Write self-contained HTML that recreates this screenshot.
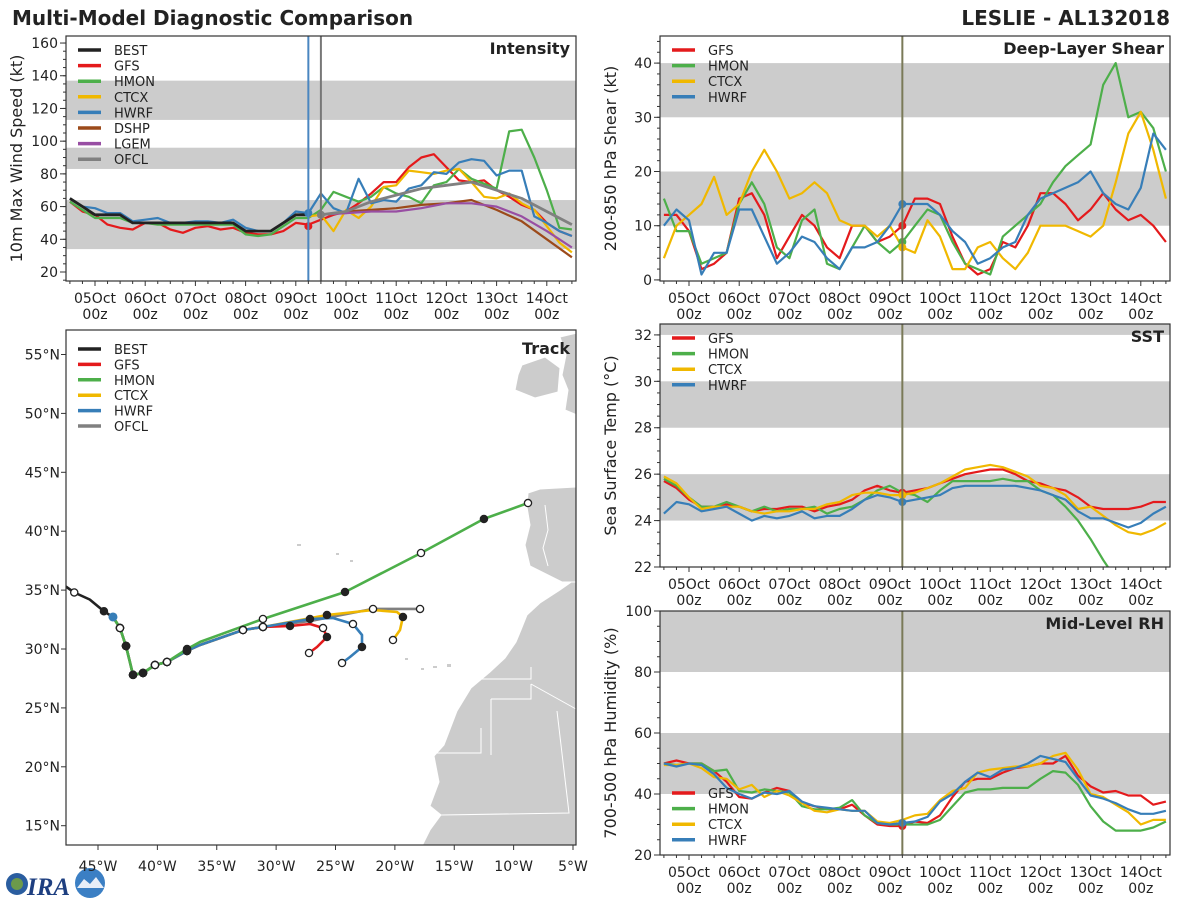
<!DOCTYPE html>
<html><head><meta charset="utf-8"><style>
html,body{margin:0;padding:0;background:#fff;}
svg{display:block;font-family:"DejaVu Sans","Liberation Sans",sans-serif;}
</style></head><body>
<svg id="chart" width="1200" height="900" viewBox="0 0 1200 900" xmlns="http://www.w3.org/2000/svg">
<text x="12" y="25" font-size="20" font-weight="bold" fill="#222">Multi-Model Diagnostic Comparison</text>
<text x="1170" y="25" font-size="20" font-weight="bold" fill="#222" text-anchor="end">LESLIE - AL132018</text>
<g>
<circle cx="17" cy="884" r="11" fill="#2a5d9f"/><circle cx="17" cy="884" r="6" fill="#6c9a4a"/>
<text x="27" y="895" font-size="25" font-weight="bold" font-style="italic" fill="#1e3f80" font-family="Liberation Serif,serif">IRA</text>
<circle cx="90" cy="883" r="15" fill="#3b7fc4"/><path d="M77 888 L84 879 L90 884 L96 877 L104 888 Z" fill="#e8eef8"/>
</g>
</svg>
<script>
// ---------- DATA ----------
const dayLabels = ["05Oct","06Oct","07Oct","08Oct","09Oct","10Oct","11Oct","12Oct","13Oct","14Oct"];
const legendIntensity = ["BEST","GFS","HMON","CTCX","HWRF","DSHP","LGEM","OFCL"];
const legendModels = ["GFS","HMON","CTCX","HWRF"];
// intensity (kt), 6-hourly from 04Oct 12z
const intBEST = [65,60,55,55,55,50,50,50,50,50, 50,50,50,50,45,45,45,50,55,55];
const intGFS  = [63,57,55,49,47,46,50,50,46,44, 47,48,46,47,44,43,43,45,50,49, 52,55,57,62,68,75,75,84,90,92, 84,76,75,76,70,66,61,58,50,45, 42];
const intHMON = [63,58,53,53,53,50,50,49,49,49, 49,49,49,49,43,42,43,48,53,53, 58,69,66,63,66,72,68,66,62,73, 75,83,77,74,71,106,107,90,70,47, 46];
const intCTCX = [null,null,null,null,null,null,null,null,null,null, null,null,null,null,null,null,null,null,null,54, 55,45,58,53,60,72,73,82,81,80, 82,83,75,66,65,68,62,58,48,38, 32];
const intHWRF = [65,60,59,56,56,51,52,53,50,50, 51,51,50,52,47,45,45,50,57,56, 68,59,56,77,62,64,63,71,73,81, 80,87,89,88,79,82,82,54,50,45, 42];
// 12-hourly from 09Oct 12z
const intDSHP = [55,57,58,59,61,62,64,58,51,40,29];
const intLGEM = [55,56,57,57,59,62,62,60,54,45,35];
const intOFCL = [55,57,63,67,71,73,75,70,65,57,49];
// shear (kt)
const shrGFS  = [12,12,9,2,3,5,15,16,12,4, 8,12,10,6,4,10,10,7,8,10, 15,15,14,8,3,1,2,7,6,10, 16,16,14,11,13,16,13,11,12,10, 7];
const shrHMON = [15,9,9,3,4,5,14,18,14,6, 4,11,13,3,2,6,10,7,5,7, 10,13,12,7,3,2,1,8,10,12, 14,18,21,23,25,36,40,30,31,28, 20];
const shrCTCX = [4,10,12,14,19,12,14,20,24,20, 15,16,18,16,11,10,10,8,10,6, 5,11,8,2,2,6,7,4,2,5, 10,10,10,9,8,10,18,27,31,24, 15];
const shrHWRF = [10,13,11,1,5,5,13,13,8,3, 5,8,7,4,2,6,6,7,10,14, 14,14,12,9,7,3,4,6,7,12, 15,16,17,18,20,16,14,13,17,27, 24];
// SST (C)
const sstGFS  = [25.7,25.4,24.9,24.6,24.6,24.7,24.6,24.4,24.5,24.5, 24.6,24.6,24.4,24.6,24.7,24.9,25.3,25.5,25.3,25.2, 25.3,25.4,25.6,25.8,26.0,26.1,26.2,26.2,26.0,25.7, 25.6,25.4,25.3,25.0,24.6,24.5,24.5,24.5,24.6,24.8, 24.8];
const sstHMON = [25.8,25.5,25.0,24.6,24.6,24.8,24.6,24.4,24.6,24.4, 24.5,24.5,24.6,24.3,24.5,24.6,24.9,25.3,25.5,25.2, 25.1,24.8,25.3,25.7,25.7,25.7,25.7,25.8,25.7,25.7, 25.3,25.1,24.6,24.0,23.2,22.3,21.5,null,null,null, null];
const sstCTCX = [25.9,25.6,25.0,24.5,24.6,24.6,24.6,24.4,24.3,24.4, 24.4,24.5,24.5,24.7,24.8,25.1,25.2,25.2,25.1,25.1, 25.2,25.4,25.6,25.9,26.2,26.3,26.4,26.3,26.1,25.9, 25.5,25.4,25.1,24.5,24.6,24.2,23.8,23.5,23.4,23.6, 23.9];
const sstHWRF = [24.3,24.8,24.7,24.4,24.5,24.6,24.3,24.0,24.2,24.1, 24.2,24.4,24.1,24.2,24.2,24.5,24.9,25.1,25.0,24.8, 24.9,25.0,25.1,25.4,25.5,25.5,25.5,25.5,25.5,25.4, 25.3,25.1,24.9,24.4,24.1,24.1,23.9,23.7,23.9,24.3, 24.6];
// RH (%)
const rhGFS  = [50,51,50,50,47.5,44,39,38.5,40.5,42, 41,37,36,35,35,36.5,33,30,29.5,29.5, 31,30.5,33,39,44,45,45,47,48.5,49, 50,50,52.5,46,42.5,40.5,41,39.5,39.5,36.5, 37.5];
const rhHMON = [50,49.5,50,50,47.5,48,41,40.5,41.5,41, 40.5,36,35,35,35.5,38,33,30.5,30,30, 30,30,31.5,36,40.5,41.5,41.5,42,42,42, 45,47.5,47,43,36,31,28,28,28,29, 31];
const rhCTCX = [49.5,49.5,50,48.5,45.5,45,41.5,43,39,41, 39.5,37,34.5,34,35,34.5,34.5,31,30.5,31.5, 33,33.5,38,41,42,47,48,48.5,49,49, 50,52.5,53.5,48,40,39,36.5,34,30,31.5, 31.5];
const rhHWRF = [50,49,50,49.5,46.5,42,40,38.5,40.5,40, 41,37.5,36,35.5,35,34.5,34.5,30.5,30,30.5, 31,32.5,37.5,40,44,47,45.5,48,48.5,50, 52.5,51.5,50.5,45,39.5,38.5,37,35,33.5,33.5, 34.5];
// tracks: [lon, lat, marker(0 none,1 open,2 filled)]
const trackBEST = [[-47.7,35.3,0],[-47.0,34.8,1],[-45.7,34.2,0],[-44.5,33.2,2],[-43.74,32.72,0]];
const trunk = [[-43.74,32.72,0],[-43.15,31.78,1],[-42.64,30.25,2],[-42.31,28.9,0],[-42.05,27.8,2],[-41.21,27.96,2],[-40.2,28.64,1],[-39.19,28.9,1],[-37.51,29.83,2],[-36.41,30.34,0],[-32.79,31.61,1],[-31.11,31.87,1]];
const trackGFS  = trunk.concat([[-28.83,31.95,2],[-27.15,32.12,0],[-26.05,31.78,1],[-25.72,31.02,2],[-26.56,30.17,0],[-27.23,29.66,1]]);
const trackHWRF = trunk.concat([[-27.15,32.55,2],[-25.21,32.63,0],[-23.53,32.12,1],[-22.77,31.19,0],[-22.77,30.17,2],[-23.78,29.32,0],[-24.45,28.81,1]]);
const trackCTCX = trunk.concat([[-25.72,32.89,2],[-21.84,33.31,0],[-19.82,33.14,0],[-19.32,32.72,2],[-19.57,31.61,0],[-20.16,30.76,1]]);
const trackOFCL = trunk.concat([[-27.0,32.4,0],[-21.84,33.40,1],[-19.9,33.4,0],[-17.88,33.40,1]]);
const trackHMON = trunk.slice(0,8).concat([[-37.5,30.0,2],[-36.4,30.6,0],[-31.11,32.55,1],[-24.2,34.84,2],[-17.8,38.15,1],[-12.5,41.04,2],[-8.79,42.39,1]]);
const latTicks = [15,20,25,30,35,40,45,50,55];
const lonTicks = [-45,-40,-35,-30,-25,-20,-15,-10,-5];

// ---------- STYLE ----------
const COL = {BEST:"#222222",GFS:"#e41a1c",HMON:"#4daf4a",CTCX:"#f0b800",HWRF:"#377eb8",DSHP:"#9c4a1a",LGEM:"#984ea3",OFCL:"#808080"};
const NS = "http://www.w3.org/2000/svg";
const svg = document.getElementById("chart");
function mk(tag, attrs, parent){const e=document.createElementNS(NS,tag);for(const k in attrs)e.setAttribute(k,attrs[k]);(parent||svg).appendChild(e);return e;}
const six = i => -0.5 + i*0.25;
const twelve = i => 4.5 + i*0.5;

function panel(o){
  const g = mk("g",{});
  
  
  const X = t => o.x0 + 50.2*t;
  const Y = v => o.bottom - (v - o.ymin)*(o.bottom - o.top)/(o.ymax - o.ymin);
  const cid = "clip-"+o.name;
  const cp = mk("clipPath",{id:cid},g); mk("rect",{x:o.left,y:o.top,width:o.right-o.left,height:o.bottom-o.top},cp);
  o.bands.forEach(b=>{
    const r = mk("rect",{x:o.left,y:Y(Math.min(b[1],o.ymax)),width:o.right-o.left,height:Y(b[0])-Y(Math.min(b[1],o.ymax)),fill:"#cccccc"},g);
    
    
  });
  // y ticks
  for(let v=o.minorStart; v<=o.ymax+1e-6; v+=o.minor){
    const y=Y(v); if(y<o.top-0.5) continue;
    mk("line",{x1:o.left-3,x2:o.left,y1:y,y2:y,stroke:"#333","stroke-width":1},g);
  }
  o.yticks.forEach(v=>{
    const y=Y(v);
    mk("line",{x1:o.left-6,x2:o.left,y1:y,y2:y,stroke:"#333","stroke-width":1},g);
    const t=mk("text",{x:o.left-8,y:y+5,"font-size":14,"text-anchor":"end",fill:"#222"},g); t.textContent=v;
    
    
  });
  // x ticks
  dayLabels.forEach((d,i)=>{
    const x=X(i);
    mk("line",{x1:x,x2:x,y1:o.bottom,y2:o.bottom+5,stroke:"#333","stroke-width":1},g);
    const t1=mk("text",{x:x,y:o.bottom+22,"font-size":14,"text-anchor":"middle",fill:"#222"},g); t1.textContent=d;
    
    
    const t2=mk("text",{x:x,y:o.bottom+38,"font-size":14,"text-anchor":"middle",fill:"#222"},g); t2.textContent="00z";
    
    
  });
  for(let t=-0.5;t<=9.5;t+=0.25){ if(Math.abs(t-Math.round(t))<1e-6) continue; mk("line",{x1:X(t),x2:X(t),y1:o.bottom,y2:o.bottom+3,stroke:"#333"},g);}
  // y title
  const yt=mk("text",{x:0,y:0,"font-size":16,"text-anchor":"middle",fill:"#222",transform:`translate(${o.left-44},${(o.top+o.bottom)/2}) rotate(-90)`},g);
  yt.textContent=o.ytitle;
  
  
  // series
  const lg = mk("g",{"clip-path":`url(#${cid})`},g);
  o.lines.forEach(([series,vals,tf,w])=>{
    let d="",pen=false;
    vals.forEach((v,i)=>{ if(v===null){pen=false;return;} d+=(pen?"L":"M")+X(tf(i)).toFixed(1)+" "+Y(v).toFixed(1); pen=true;});
    const p=mk("path",{d:d,fill:"none",stroke:COL[series],"stroke-width":w||2.2,"stroke-linejoin":"round"},lg);
    
    
  });
  // init time line(s)
  o.vlines.forEach(([t,c,w])=>{ mk("line",{x1:X(t),x2:X(t),y1:o.top,y2:o.bottom,stroke:c,"stroke-width":w},g); });
  o.dots.forEach(([series,v,t])=>{
    const c=mk("circle",{cx:X(t),cy:Y(v),r:4,fill:COL[series]},lg);
    
    
  });
  mk("rect",{x:o.left,y:o.top,width:o.right-o.left,height:o.bottom-o.top,fill:"none",stroke:"#333","stroke-width":1.2},g);
  const pt=mk("text",{x:o.right-6,y:o.top+18,"font-size":16,"font-weight":"bold","text-anchor":"end",fill:"#222"},g);
  pt.textContent=o.title;
  
  
  // legend
  const leg=mk("g",{},g);
  
  
  o.legend.forEach((s,i)=>{
    const y=o.legY+i*15.6;
    const ln=mk("line",{x1:o.left+12,x2:o.left+35,y1:y,y2:y,stroke:COL[s],"stroke-width":3.5},leg);
    
    
    const t=mk("text",{x:o.left+48,y:y+5,"font-size":13,fill:"#222"},leg); t.textContent=s;
    
    
  });
}

panel({name:"intensity-panel",title:"Intensity",ytitle:"10m Max Wind Speed (kt)",left:66,right:576,top:36,bottom:281,x0:95,
  ymin:14.5,ymax:164.3,yticks:[20,40,60,80,100,120,140,160],minor:5,minorStart:15,
  bands:[[34,64],[83,96],[113,137]],legend:legendIntensity,legY:50,
  lines:[["GFS",intGFS,six],["HMON",intHMON,six],["CTCX",intCTCX,six],["HWRF",intHWRF,six],["DSHP",intDSHP,twelve],["LGEM",intLGEM,twelve],["OFCL",intOFCL,twelve,2.8],["BEST",intBEST,six,2.8]],
  vlines:[[4.25,"#4a86c0",2],[4.5,"#777",2]],
  dots:[["GFS",48,4.25],["HWRF",56,4.25],["OFCL",55,4.5]]});

panel({name:"shear-panel",title:"Deep-Layer Shear",ytitle:"200-850 hPa Shear (kt)",left:660,right:1170,top:36,bottom:281,x0:689,
  ymin:-0.2,ymax:45,yticks:[0,10,20,30,40],minor:2,minorStart:0,
  bands:[[10,20],[30,40]],legend:legendModels,legY:50,
  lines:[["GFS",shrGFS,six],["HMON",shrHMON,six],["CTCX",shrCTCX,six],["HWRF",shrHWRF,six]],
  vlines:[[4.25,"#7a7a58",2]],
  dots:[["GFS",10,4.25],["HMON",7,4.25],["CTCX",6,4.25],["HWRF",14,4.25]]});

panel({name:"sst-panel",title:"SST",ytitle:"Sea Surface Temp (°C)",left:660,right:1170,top:324,bottom:567,x0:689,
  ymin:22,ymax:32.47,yticks:[22,24,26,28,30,32],minor:0.5,minorStart:22,
  bands:[[24,26],[28,30],[32,34]],legend:legendModels,legY:338,
  lines:[["GFS",sstGFS,six],["HMON",sstHMON,six],["CTCX",sstCTCX,six],["HWRF",sstHWRF,six]],
  vlines:[[4.25,"#7a7a58",2]],
  dots:[["GFS",25.2,4.25],["CTCX",25.1,4.25],["HWRF",24.8,4.25]]});

panel({name:"rh-panel",title:"Mid-Level RH",ytitle:"700-500 hPa Humidity (%)",left:660,right:1170,top:611,bottom:855,x0:689,
  ymin:20,ymax:100,yticks:[20,40,60,80,100],minor:5,minorStart:20,
  bands:[[40,60],[80,100]],legend:legendModels,legY:793,
  lines:[["GFS",rhGFS,six],["HMON",rhHMON,six],["CTCX",rhCTCX,six],["HWRF",rhHWRF,six]],
  vlines:[[4.25,"#7a7a58",2]],
  dots:[["GFS",29.5,4.25],["HWRF",30.5,4.25]]});

// ---------- TRACK MAP ----------
(function(){
  const L=66,R=576,T=330,B=845;
  const MX = lon => 98 + (lon+45)*11.875;
  const MY = lat => 649 - (lat-30)*11.78;
  const g=mk("g",{});
  
  
  const cp=mk("clipPath",{id:"clip-map"},g); mk("rect",{x:L,y:T,width:R-L,height:B-T},cp);
  const land=mk("g",{"clip-path":"url(#clip-map)",fill:"#cccccc",stroke:"#fff","stroke-width":1},g);
  
  
  mk("path",{d:"M577 578 L560 590 L540 603 L527 615 L521 630 L516 642 L505 658 L490 672 L471 688 L457 711 L444 745 L434 756 L439 782 L430 806 L441 815 L430 830 L422 846 L577 846 Z"},land);
  mk("path",{d:"M528 493 L540 489 L577 487 L577 582 L562 582 L548 575 L530 566 L525 545 L530 525 L527 507 Z"},land);
  mk("path",{d:"M522 365 L545 357 L560 368 L558 392 L535 398 L515 390 L518 375 Z"},land);
  mk("path",{d:"M560 337 L577 333 L577 415 L565 410 L568 390 L562 375 L566 355 Z"},land);
  [[297,544,4,2],[336,553,3,2],[350,560,3,2],[421,668,3,2],[433,666,4,2],[447,664,4,3],[405,658,3,2]].forEach(r=>mk("rect",{x:r[0],y:r[1],width:r[2],height:r[3],stroke:"none"},land));
  const bd=mk("g",{stroke:"#fff","stroke-width":1,fill:"none"},g);
  mk("path",{d:"M545 505 L548 530 L543 548 L548 566 M478 679 L531 679 L531 667 M531 684 L576 709 M491 699 L491 755 M491 699 L531 699 L531 684 M481 728 L481 753 L434 753 M557 711 L569 813 L441 815"},bd);
  // ticks/labels
  latTicks.forEach(la=>{const y=MY(la);
    mk("line",{x1:L-5,x2:L,y1:y,y2:y,stroke:"#333"},g);
    const t=mk("text",{x:L-6,y:y+5,"font-size":14,"text-anchor":"end",fill:"#222"},g); t.textContent=la+"°N";
    
    });
  lonTicks.forEach(lo=>{const x=MX(lo);
    mk("line",{x1:x,x2:x,y1:B,y2:B+5,stroke:"#333"},g);
    const t=mk("text",{x:x,y:B+26,"font-size":14,"text-anchor":"middle",fill:"#222"},g); t.textContent=(-lo)+"°W";
    
    });
  const tg=mk("g",{"clip-path":"url(#clip-map)"},g);
  const tracks=[["OFCL",trackOFCL],["GFS",trackGFS],["CTCX",trackCTCX],["HWRF",trackHWRF],["HMON",trackHMON],["BEST",trackBEST]];
  tracks.forEach(([s,pts])=>{
    const d=pts.map((p,i)=>(i?"L":"M")+MX(p[0]).toFixed(1)+" "+MY(p[1]).toFixed(1)).join("");
    const p=mk("path",{d:d,fill:"none",stroke:COL[s],"stroke-width":2.6,"stroke-linejoin":"round"},tg);
    
    
  });
  tracks.forEach(([s,pts])=>{
    pts.forEach(p=>{ if(!p[2]) return;
      const c=mk("circle",{cx:MX(p[0]),cy:MY(p[1]),r:3.6,fill:p[2]===2?"#222":"#fff",stroke:"#222","stroke-width":1.3},tg);
      
      
    });
  });
  mk("circle",{cx:MX(-43.74),cy:MY(32.72),r:4.5,fill:COL.HWRF},tg);
  mk("rect",{x:L,y:T,width:R-L,height:B-T,fill:"none",stroke:"#333","stroke-width":1.2},g);
  const pt=mk("text",{x:R-6,y:T+24,"font-size":16,"font-weight":"bold","text-anchor":"end",fill:"#222"},g); pt.textContent="Track";
  
  
  const leg=mk("g",{},g);
  
  
  ["BEST","GFS","HMON","CTCX","HWRF","OFCL"].forEach((s,i)=>{
    const y=349+i*15.4;
    mk("line",{x1:78,x2:101,y1:y,y2:y,stroke:COL[s],"stroke-width":3.5},leg);
    const t=mk("text",{x:114,y:y+5,"font-size":13,fill:"#222"},leg); t.textContent=s;
    
    
  });
})();
</script>
</body></html>
